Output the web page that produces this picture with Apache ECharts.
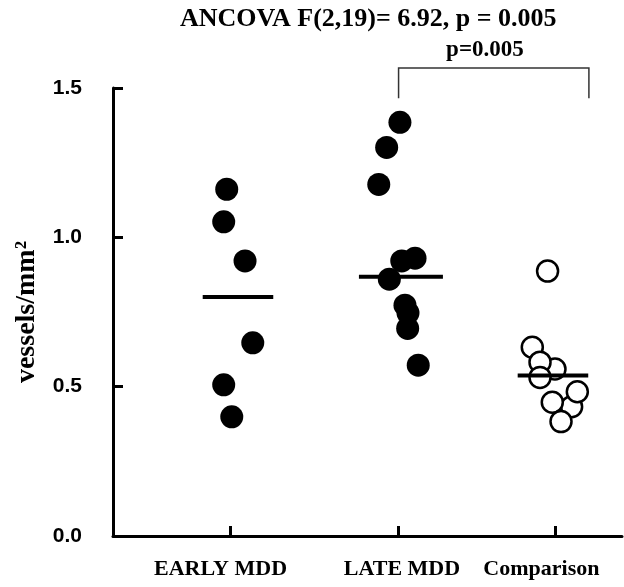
<!DOCTYPE html>
<html>
<head>
<meta charset="utf-8">
<script src="https://cdn.jsdelivr.net/npm/echarts@6/dist/echarts.min.js"></script>
<style>
  html, body { margin: 0; padding: 0; background: #fff; }
  #chart { width: 624px; height: 587px; }
</style>
</head>
<body>
<div id="chart"></div>
<script>
  // groups and where they sit on the x value axis
  const categories = ['EARLY MDD', 'LATE MDD', 'Comparison']
  const catPos = [1, 2, 2.93]
  const labelPos = [0.94, 2.02, 2.85]

  // individual subjects (x = jitter position, y = vessels/mm2)
  const earlyX = [0.977, 0.959, 1.086, 1.132, 0.959, 1.007]
  const earlyY = [1.161, 1.052, 0.921, 0.647, 0.506, 0.399]
  const lateX = [2.008, 1.929, 1.882, 2.098, 2.019, 1.945, 2.038, 2.056, 2.054, 2.117]
  const lateY = [1.385, 1.301, 1.177, 0.930, 0.921, 0.860, 0.773, 0.747, 0.695, 0.572]
  const compX = [2.887, 2.796, 3.030, 2.931, 2.842, 2.842, 3.064, 2.915, 2.967]
  const compY = [0.887, 0.632, 0.433, 0.559, 0.582, 0.531, 0.483, 0.448, 0.383]

  // group means (horizontal bars)
  const meanX = [1.044, 2.014, 2.919]
  const meanY = [0.80, 0.868, 0.537]
  const meanHalf = [0.21, 0.25, 0.21]

  // pairwise comparison bracket
  const bracket = {from: 2.0, to: 3.133, low: 1.466, high: 1.567, text: 'p=0.005', textX: 2.514, textY: 1.627}

  const titleText = 'ANCOVA F(2,19)= 6.92, p = 0.005'
  const yTicks = {min: 0, max: 1.5, interval: 0.5}

  const zip = (xs, ys) => xs.map((x, i) => [x, ys[i]])

  const chart = echarts.init(document.getElementById('chart'))

  chart.setOption({
    animation: false,
    title: {
      text: titleText,
      left: 175,
      top: 1,
      textStyle: {
        fontFamily: 'Liberation Serif',
        fontWeight: 'bold',
        fontSize: 26,
        color: '#000'
      }
    },
    grid: {
      left: 113,
      right: 2,
      top: 88,
      bottom: 51
    },
    xAxis: {
      type: 'value',
      min: 0.3,
      max: 3.33,
      splitLine: {show: false},
      axisLine: {lineStyle: {color: '#000', width: 3}},
      axisTick: {
        inside: true,
        length: 10,
        lineStyle: {color: '#000', width: 3},
        customValues: catPos
      },
      axisLabel: {
        customValues: labelPos,
        margin: 22,
        color: '#000',
        fontFamily: 'Liberation Serif',
        fontWeight: 'bold',
        fontSize: 22,
        formatter: v => {
          let best = 0
          labelPos.forEach((p, i) => {
            if (Math.abs(p - v) < Math.abs(labelPos[best] - v)) best = i
          })
          return categories[best]
        }
      }
    },
    yAxis: {
      type: 'value',
      min: yTicks.min,
      max: yTicks.max,
      interval: yTicks.interval,
      name: 'vessels/mm²',
      nameLocation: 'middle',
      nameRotate: 90,
      nameGap: 72,
      nameTextStyle: {
        fontFamily: 'Liberation Serif',
        fontWeight: 'bold',
        fontSize: 28,
        color: '#000'
      },
      splitLine: {show: false},
      axisLine: {show: true, lineStyle: {color: '#000', width: 3}},
      axisTick: {inside: true, length: 10, lineStyle: {color: '#000', width: 3}},
      axisLabel: {
        margin: 31,
        color: '#000',
        fontFamily: 'Liberation Sans',
        fontWeight: 'bold',
        fontSize: 21,
        formatter: v => v.toFixed(1)
      }
    },
    series: [
      {
        name: 'EARLY MDD',
        type: 'scatter',
        symbol: 'circle',
        symbolSize: 23,
        itemStyle: {color: '#000', opacity: 1},
        data: zip(earlyX, earlyY)
      },
      {
        name: 'LATE MDD',
        type: 'scatter',
        symbol: 'circle',
        symbolSize: 23,
        itemStyle: {color: '#000', opacity: 1},
        data: zip(lateX, lateY)
      },
      {
        name: 'Comparison',
        type: 'scatter',
        symbol: 'circle',
        symbolSize: 21,
        itemStyle: {color: '#fff', borderColor: '#000', borderWidth: 2.5, opacity: 1},
        data: zip(compX, compY)
      },
      {
        name: 'means',
        type: 'custom',
        clip: false,
        z: 5,
        data: meanX.map((x, i) => [x, meanY[i], meanHalf[i]]),
        renderItem(params, api) {
          const x = api.value(0), y = api.value(1), h = api.value(2)
          const a = api.coord([x - h, y])
          const b = api.coord([x + h, y])
          return {
            type: 'line',
            shape: {x1: a[0], y1: a[1], x2: b[0], y2: b[1]},
            style: {stroke: '#000', lineWidth: 4}
          }
        }
      },
      {
        name: 'bracket',
        type: 'custom',
        clip: false,
        data: [[bracket.from, bracket.to, bracket.low, bracket.high]],
        renderItem(params, api) {
          const l0 = api.coord([bracket.from, bracket.low])
          const l1 = api.coord([bracket.from, bracket.high])
          const r1 = api.coord([bracket.to, bracket.high])
          const r0 = api.coord([bracket.to, bracket.low])
          const t = api.coord([bracket.textX, bracket.textY])
          return {
            type: 'group',
            children: [
              {
                type: 'polyline',
                shape: {points: [l0, l1, r1, r0]},
                style: {stroke: '#333', lineWidth: 1.5, fill: null}
              },
              {
                type: 'text',
                x: t[0],
                y: t[1],
                style: {
                  text: bracket.text,
                  fill: '#000',
                  font: 'bold 23px "Liberation Serif"',
                  align: 'center',
                  verticalAlign: 'middle'
                }
              }
            ]
          }
        }
      }
    ]
  })
</script>
</body>
</html>
